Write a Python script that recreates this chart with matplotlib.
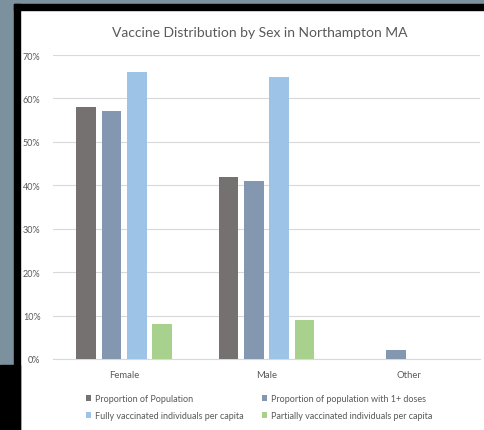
import numpy as np
import matplotlib.pyplot as plt
from matplotlib.patches import Rectangle
from matplotlib.ticker import PercentFormatter

plt.rcParams['font.family'] = ['Lato', 'DejaVu Sans']

categories = ['Female', 'Male', 'Other']
series_names = ['Proportion of Population',
                'Proportion of population with 1+ doses',
                'Fully vaccinated individuals per capita',
                'Partially vaccinated individuals per capita']
proportion_pop = [58, 42, 0]
one_plus_doses = [57, 41, 2]
fully_vacc = [66, 65, 0]
partially_vacc = [8, 9, 0]
yticks = [0, 10, 20, 30, 40, 50, 60, 70]

colors = ['#767171', '#8497b0', '#9dc3e6', '#a9d18e']
text_color = '#595959'

W, H = 485, 431
fig = plt.figure(figsize=(W / 100, H / 100), dpi=100)
fig.patch.set_facecolor('white')

# backdrop: slate strip, black frame edges
def px_rect(x0, y0, x1, y1, color):
    fig.patches.append(Rectangle((x0 / W, 1 - y1 / H), (x1 - x0) / W, (y1 - y0) / H,
                                 transform=fig.transFigure, color=color, zorder=0))

px_rect(0, 0, W, 5, '#7b919e')
px_rect(0, 0, 14, 366, '#7b919e')
px_rect(14, 5, W, 11, '#000000')
px_rect(14, 5, 20, H, '#000000')
px_rect(0, 366, 20, H, '#000000')

ax = fig.add_axes([53 / W, 71 / H, 427 / W, 304 / H])
ax.set_facecolor('none')

x = np.arange(len(categories))
step, width = 0.178, 0.14
all_series = [proportion_pop, one_plus_doses, fully_vacc, partially_vacc]
bars = []
for i, (vals, c) in enumerate(zip(all_series, colors)):
    b = ax.bar(x + (i - 1.5) * step, vals, width, color=c, zorder=3,
               label=series_names[i])
    bars.append(b)

ax.set_xlim(-0.5, 2.5)
ax.set_ylim(0, 70)
ax.set_yticks(yticks)
ax.yaxis.set_major_formatter(PercentFormatter(decimals=0))
ax.set_xticks(x)
ax.set_xticklabels(categories)
ax.grid(axis='y', color='#d9d9d9', linewidth=0.8, zorder=0)
for s in ['top', 'right', 'left']:
    ax.spines[s].set_visible(False)
ax.spines['bottom'].set_color('#d9d9d9')
ax.spines['bottom'].set_linewidth(0.8)
ax.tick_params(axis='both', length=0, colors=text_color, labelsize=6.5)
ax.tick_params(axis='y', pad=9)
ax.tick_params(axis='x', pad=8, labelsize=6.8)

fig.text(260 / W, 1 - 33 / H, 'Vaccine Distribution by Sex in Northampton MA',
         ha='center', va='center', fontsize=10, color=text_color)

order = [0, 2, 1, 3]
leg = fig.legend([bars[i] for i in order], [series_names[i] for i in order],
                 ncol=2, loc='center', bbox_to_anchor=(259 / W, 1 - 408 / H),
                 frameon=False, fontsize=6.5, handlelength=0.6, handleheight=0.6,
                 handletextpad=0.4, columnspacing=2.0, labelspacing=0.9,
                 labelcolor=text_color)

fig.savefig('out.png', dpi=100)
